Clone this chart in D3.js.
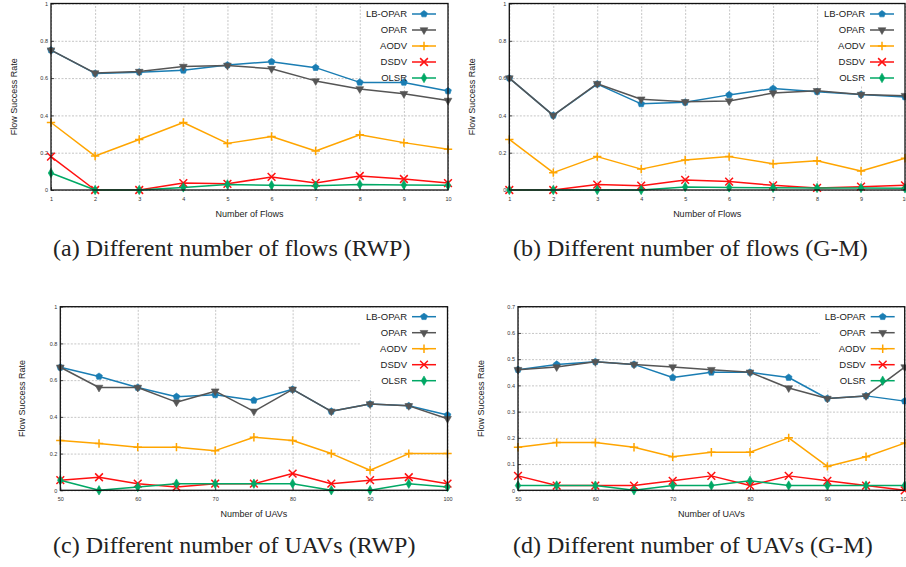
<!DOCTYPE html>
<html>
<head>
<meta charset="utf-8">
<script src="https://cdn.jsdelivr.net/npm/d3@7"></script>
<style>
  html, body { margin: 0; padding: 0; background: #fff; }
  svg { display: block; }
</style>
</head>
<body>
<svg id="chart" width="906" height="567"></svg>
<script>
// ---------------- DATA ----------------
const seriesNames = ["LB-OPAR", "OPAR", "AODV", "DSDV", "OLSR"];

const flowsX = [1, 2, 3, 4, 5, 6, 7, 8, 9, 10];
const uavX = [50, 55, 60, 65, 70, 75, 80, 85, 90, 95, 100];

// (a) flows, RWP
const aLBOPAR = [0.75, 0.625, 0.632, 0.642, 0.670, 0.688, 0.656, 0.577, 0.577, 0.531];
const aOPAR   = [0.75, 0.627, 0.635, 0.662, 0.668, 0.650, 0.585, 0.542, 0.516, 0.480];
const aAODV   = [0.362, 0.182, 0.271, 0.362, 0.250, 0.287, 0.209, 0.296, 0.254, 0.218];
const aDSDV   = [0.179, 0, 0, 0.037, 0.033, 0.070, 0.038, 0.075, 0.059, 0.037];
const aOLSR   = [0.091, 0, 0, 0.014, 0.030, 0.025, 0.023, 0.030, 0.027, 0.025];

// (b) flows, G-M
const bLBOPAR = [0.60, 0.40, 0.568, 0.462, 0.470, 0.510, 0.544, 0.527, 0.512, 0.499];
const bOPAR   = [0.60, 0.40, 0.570, 0.487, 0.473, 0.477, 0.520, 0.532, 0.512, 0.506];
const bAODV   = [0.271, 0.093, 0.179, 0.112, 0.161, 0.179, 0.141, 0.157, 0.102, 0.170];
const bDSDV   = [0, 0, 0.029, 0.023, 0.054, 0.045, 0.025, 0.011, 0.018, 0.025];
const bOLSR   = [0, 0, 0, 0, 0.016, 0.014, 0.012, 0.011, 0.011, 0.009];

// (c) UAVs, RWP
const cLBOPAR = [0.67, 0.62, 0.56, 0.51, 0.52, 0.49, 0.55, 0.43, 0.47, 0.46, 0.41];
const cOPAR   = [0.67, 0.56, 0.56, 0.48, 0.54, 0.43, 0.55, 0.43, 0.47, 0.46, 0.39];
const cAODV   = [0.271, 0.255, 0.235, 0.235, 0.216, 0.289, 0.271, 0.20, 0.109, 0.20, 0.20];
const cDSDV   = [0.055, 0.071, 0.036, 0.018, 0.036, 0.036, 0.091, 0.036, 0.055, 0.071, 0.036];
const cOLSR   = [0.055, 0, 0.018, 0.036, 0.036, 0.036, 0.036, 0, 0, 0.036, 0.018];

// (d) UAVs, G-M
const dLBOPAR = [0.46, 0.48, 0.49, 0.48, 0.43, 0.45, 0.45, 0.43, 0.35, 0.36, 0.34];
const dOPAR   = [0.46, 0.47, 0.49, 0.48, 0.47, 0.46, 0.45, 0.39, 0.35, 0.36, 0.47];
const dAODV   = [0.164, 0.182, 0.182, 0.164, 0.128, 0.145, 0.145, 0.20, 0.091, 0.128, 0.18];
const dDSDV   = [0.055, 0.018, 0.018, 0.018, 0.036, 0.055, 0.018, 0.055, 0.036, 0.018, 0];
const dOLSR   = [0.018, 0.018, 0.018, 0, 0.018, 0.018, 0.036, 0.018, 0.018, 0.018, 0.018];

const yTicksRate = [0, 0.2, 0.4, 0.6, 0.8, 1];
const yTicksD = [0, 0.1, 0.2, 0.3, 0.4, 0.5, 0.6, 0.7];

const captions = [
  "(a) Different number of flows (RWP)",
  "(b) Different number of flows (G-M)",
  "(c) Different number of UAVs (RWP)",
  "(d) Different number of UAVs (G-M)"
];
const xLabels = ["Number of Flows", "Number of Flows", "Number of UAVs", "Number of UAVs"];
const yLabel = "Flow Success Rate";

// ---------------- STYLE ----------------
const colors = ["#1a7db3", "#555555", "#ffa500", "#ff1010", "#00a865"];

const pentagon = {
  draw(ctx, size) {
    const r = Math.sqrt(size / 2.38);
    for (let i = 0; i < 5; i++) {
      const a = -Math.PI / 2 + i * 2 * Math.PI / 5;
      const px = r * Math.cos(a), py = r * Math.sin(a);
      if (i === 0) ctx.moveTo(px, py); else ctx.lineTo(px, py);
    }
    ctx.closePath();
  }
};
const downTriangle = {
  draw(ctx, size) {
    const r = Math.sqrt(size / 1.3);
    ctx.moveTo(-r * 0.866, -r * 0.5);
    ctx.lineTo(r * 0.866, -r * 0.5);
    ctx.lineTo(0, r);
    ctx.closePath();
  }
};
const plusSym = {
  draw(ctx, size) {
    const r = Math.sqrt(size) / 2;
    ctx.moveTo(-r, 0); ctx.lineTo(r, 0);
    ctx.moveTo(0, -r); ctx.lineTo(0, r);
  }
};
const crossSym = {
  draw(ctx, size) {
    const r = Math.sqrt(size) / 2;
    ctx.moveTo(-r, -r); ctx.lineTo(r, r);
    ctx.moveTo(-r, r); ctx.lineTo(r, -r);
  }
};
const markerDefs = [
  { type: pentagon, size: 30, fill: true },
  { type: downTriangle, size: 26, fill: true },
  { type: plusSym, size: 70, fill: false },
  { type: crossSym, size: 60, fill: false },
  { type: d3.symbolDiamond, size: 26, fill: true }
];

const panels = [
  { x: flowsX, xTicks: flowsX, yTicks: yTicksRate, ymax: 1, series: [aLBOPAR, aOPAR, aAODV, aDSDV, aOLSR],
    left: 51, right: 448, top: 3.5, bottom: 190, yLabX: 13.5, capX: 53, capY: 256, legTextX: 407, legY: 14 },
  { x: flowsX, xTicks: flowsX, yTicks: yTicksRate, ymax: 1, series: [bLBOPAR, bOPAR, bAODV, bDSDV, bOLSR],
    left: 509.3, right: 905, top: 3.5, bottom: 190, yLabX: 472, capX: 513, capY: 256, legTextX: 865, legY: 14 },
  { x: uavX, xTicks: uavX.filter(v => v % 10 === 0), yTicks: yTicksRate, ymax: 1, series: [cLBOPAR, cOPAR, cAODV, cDSDV, cOLSR],
    left: 60.3, right: 447.5, top: 306.7, bottom: 490.3, yLabX: 22, capX: 53, capY: 553, legTextX: 407, legY: 316.7 },
  { x: uavX, xTicks: uavX.filter(v => v % 10 === 0), yTicks: yTicksD, ymax: 0.7, series: [dLBOPAR, dOPAR, dAODV, dDSDV, dOLSR],
    left: 518, right: 904.7, top: 306.7, bottom: 490.3, yLabX: 480.7, capX: 513, capY: 553, legTextX: 865.7, legY: 316.7 }
];

const svg = d3.select("#chart");
const fmt = d3.format("~g");

panels.forEach((p, pi) => {
  const xs = d3.scaleLinear().domain(d3.extent(p.x)).range([p.left, p.right]);
  const ys = d3.scaleLinear().domain([0, p.ymax]).range([p.bottom, p.top]);
  const g = svg.append("g");

  // gridlines
  const gx = g.append("g").attr("transform", `translate(0,${p.bottom})`)
    .call(d3.axisBottom(xs).tickValues(p.xTicks).tickSize(-(p.bottom - p.top)).tickFormat(""));
  const gy = g.append("g").attr("transform", `translate(${p.left},0)`)
    .call(d3.axisLeft(ys).tickValues(p.yTicks).tickSize(-(p.right - p.left)).tickFormat(""));
  [gx, gy].forEach(a => {
    a.select(".domain").remove();
    a.selectAll(".tick line").attr("stroke", "#c0c0c0").attr("stroke-width", 0.9).attr("stroke-dasharray", "2,1.5");
  });

  // legend background
  const legRowH = 16;
  g.append("rect")
    .attr("x", p.legTextX - 46).attr("y", p.top + 1)
    .attr("width", p.right - (p.legTextX - 46) - 1)
    .attr("height", p.legY + legRowH * 4 + 7 - p.top)
    .attr("fill", "#fff");

  // tick labels
  const lx = g.append("g").attr("transform", `translate(0,${p.bottom})`)
    .call(d3.axisBottom(xs).tickValues(p.xTicks).tickSize(0).tickPadding(7).tickFormat(fmt));
  const ly = g.append("g").attr("transform", `translate(${p.left},0)`)
    .call(d3.axisLeft(ys).tickValues(p.yTicks).tickSize(0).tickPadding(3).tickFormat(fmt));
  [lx, ly].forEach(a => {
    a.select(".domain").remove();
    a.selectAll("text").attr("font-family", "Liberation Sans, Arial, sans-serif").attr("font-size", 5.5).attr("fill", "#333");
  });

  // small inner ticks (gnuplot style)
  const tx = g.append("g").attr("transform", `translate(0,${p.bottom})`)
    .call(d3.axisBottom(xs).tickValues(p.xTicks).tickSize(-3).tickFormat(""));
  const ty = g.append("g").attr("transform", `translate(${p.left},0)`)
    .call(d3.axisLeft(ys).tickValues(p.yTicks).tickSize(-3).tickFormat(""));
  [tx, ty].forEach(a => {
    a.select(".domain").remove();
    a.selectAll(".tick line").attr("stroke", "#222").attr("stroke-width", 0.8);
  });

  // series
  p.series.forEach((vals, si) => {
    const pts = p.x.map((xv, i) => [xv, vals[i]]);
    const line = d3.line().x(d => xs(d[0])).y(d => ys(d[1]));
    g.append("path").datum(pts).attr("d", line)
      .attr("fill", "none").attr("stroke", colors[si]).attr("stroke-width", 1.5).attr("stroke-linejoin", "round");
    const m = markerDefs[si];
    const sym = d3.symbol().type(m.type).size(m.size);
    g.selectAll(null).data(pts).enter().append("path")
      .attr("d", sym)
      .attr("transform", d => `translate(${xs(d[0])},${ys(d[1])})`)
      .attr("fill", m.fill ? colors[si] : "none")
      .attr("stroke", colors[si]).attr("stroke-width", m.fill ? 0.6 : 1.5);
  });

  // border
  g.append("rect").attr("x", p.left).attr("y", p.top)
    .attr("width", p.right - p.left).attr("height", p.bottom - p.top)
    .attr("fill", "none").attr("stroke", "#111").attr("stroke-width", 1.3);

  // legend
  seriesNames.forEach((name, si) => {
    const y = p.legY + si * legRowH;
    g.append("text").attr("x", p.legTextX).attr("y", y).attr("dy", "0.35em")
      .attr("text-anchor", "end").attr("font-family", "Liberation Sans, Arial, sans-serif")
      .attr("font-size", 9.5).attr("fill", "#222").text(name);
    const x0 = p.legTextX + 5, x1 = p.legTextX + 29;
    g.append("line").attr("x1", x0).attr("x2", x1).attr("y1", y).attr("y2", y)
      .attr("stroke", colors[si]).attr("stroke-width", 1.5);
    const m = markerDefs[si];
    g.append("path").attr("d", d3.symbol().type(m.type).size(m.size)())
      .attr("transform", `translate(${(x0 + x1) / 2},${y})`)
      .attr("fill", m.fill ? colors[si] : "none")
      .attr("stroke", colors[si]).attr("stroke-width", m.fill ? 0.6 : 1.5);
  });

  // axis titles
  g.append("text").attr("x", (p.left + p.right) / 2).attr("y", p.bottom + 23.5)
    .attr("dy", "0.35em").attr("text-anchor", "middle")
    .attr("font-family", "Liberation Sans, Arial, sans-serif").attr("font-size", 9).attr("fill", "#222")
    .text(xLabels[pi]);
  g.append("text")
    .attr("transform", `translate(${p.yLabX},${(p.top + p.bottom) / 2}) rotate(-90)`)
    .attr("dy", "0.35em").attr("text-anchor", "middle")
    .attr("font-family", "Liberation Sans, Arial, sans-serif").attr("font-size", 9).attr("fill", "#222")
    .text(yLabel);

  // caption
  svg.append("text").attr("x", p.capX).attr("y", p.capY)
    .attr("font-family", "Liberation Serif, Times New Roman, serif").attr("font-size", 24).attr("fill", "#222")
    .text(captions[pi]);
});
</script>
</body>
</html>
